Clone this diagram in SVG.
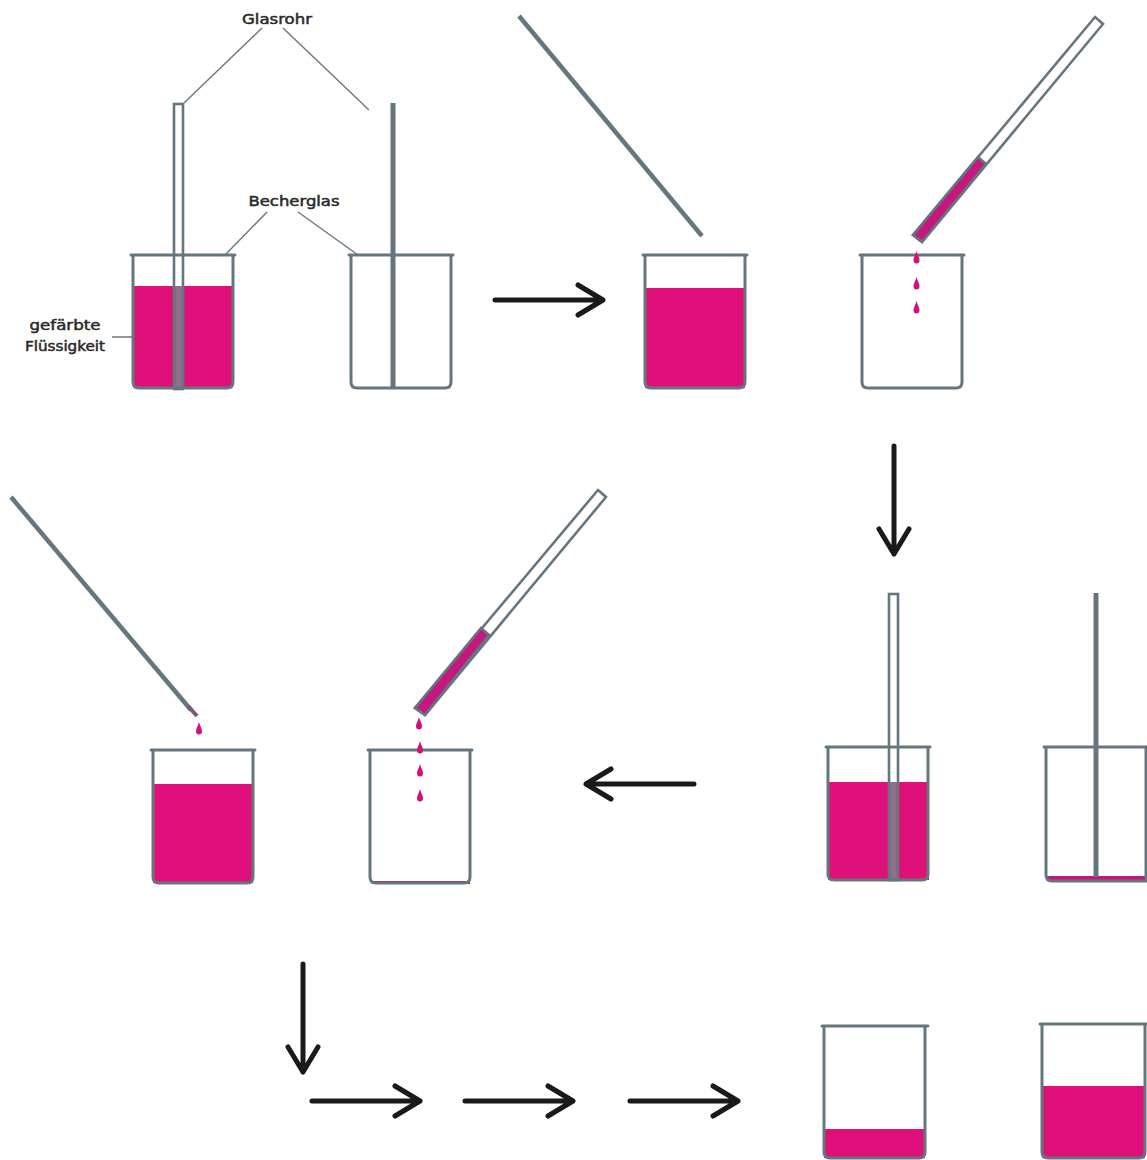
<svg xmlns="http://www.w3.org/2000/svg" width="1147" height="1160" viewBox="0 0 1147 1160">
<style>
.liq{fill:#e0107a}
.gl{fill:none;stroke:#66767f;stroke-width:3;stroke-linejoin:round;stroke-linecap:round}
.rod{fill:none;stroke:#66767f;stroke-width:5;stroke-linecap:butt}
.dia{fill:none;stroke:#66767f;stroke-width:4.5;stroke-linecap:butt}
.tube{fill:#fff;stroke:#66767f;stroke-width:2.6}
.tubeo{fill:none;stroke:#66767f;stroke-width:2.6}
.inner{fill:#8f7088}
.lead{fill:none;stroke:#6e7a80;stroke-width:1.5}
.arr{fill:none;stroke:#1a1a1a;stroke-width:5;stroke-linecap:round;stroke-linejoin:round}
.pink{fill:#c4187e;stroke:#66767f;stroke-width:2.6}
.t{font-family:"DejaVu Sans",sans-serif;font-size:13.500px;font-weight:normal;fill:#2a2a2a;stroke:#2a2a2a;stroke-width:.5;text-anchor:middle}
</style>
<defs>
<path id="beaker" class="gl" d="M-2 0H102M0 0V127Q0 133 6 133H94Q100 133 100 127V0"/>
<path id="drop" fill="#d4107a" d="M0 -7C1 -3 3 -1 3 2A3 3.500 0 0 1 -3 2C-3 -1 -1 -3 0 -7Z"/>
<path id="arrowR" class="arr" d="M0 0H108M83 -15L108 0L83 15"/>
</defs>

<rect width="1147" height="1160" fill="#fff"/>

<g id="labels">
<text class="t" x="277" y="24" textLength="70" lengthAdjust="spacingAndGlyphs">Glasrohr</text>
<text class="t" x="294" y="206" textLength="91" lengthAdjust="spacingAndGlyphs">Becherglas</text>
<text class="t" x="65" y="330" textLength="71" lengthAdjust="spacingAndGlyphs">gefärbte</text>
<text class="t" x="65" y="351" textLength="80" lengthAdjust="spacingAndGlyphs">Flüssigkeit</text>
<path class="lead" d="M262 28L184 103M283 28L369 110M267 212L225 255M298 212L358 255M112 337H149"/>
</g>

<g id="step1-left">
<rect class="liq" x="133" y="286" width="100" height="101"/>
<rect class="inner" x="175" y="286" width="7" height="103"/>
<use href="#beaker" x="133" y="255"/>
<rect class="tubeo" x="174" y="104" width="9" height="285"/>
</g>
<g id="step1-right">
<use href="#beaker" x="351" y="255"/>
<path class="rod" d="M393 103V388"/>
</g>

<g id="step2-left">
<rect class="liq" x="645" y="288" width="100" height="100"/>
<use href="#beaker" x="645" y="255"/>
<path class="dia" d="M519 16L702 236"/>
</g>
<g id="step2-right">
<use href="#beaker" x="862" y="255"/>
<path class="tube" d="M1095 17L1103 24L922 242L913 235Z"/>
<path class="pink" d="M978 157L986 164L922 242L913 235Z"/>
<use href="#drop" x="916.500" y="258"/>
<use href="#drop" x="916.500" y="284"/>
<use href="#drop" x="916.500" y="308"/>
</g>

<g id="step3-left">
<rect class="liq" x="828" y="782" width="101" height="98"/>
<rect class="inner" x="889" y="782" width="9" height="98"/>
<use href="#beaker" x="828" y="747"/>
<rect class="tubeo" x="889" y="594" width="9" height="286"/>
</g>
<g id="step3-right">
<rect x="1047" y="876" width="100" height="5" fill="#c5157c"/>
<path class="gl" d="M1044 747H1147M1046 747V875Q1046 881 1052 881H1147M1146 747V881"/>
<path class="rod" d="M1096 593V877"/>
</g>

<g id="step4-left">
<rect class="liq" x="153" y="784" width="100" height="99"/>
<use href="#beaker" x="153" y="750"/>
<path class="dia" d="M11 497L191 710"/>
<path d="M188 706L197 716" stroke="#7a5a78" stroke-width="4" fill="none"/>
<use href="#drop" x="199" y="729"/>
</g>
<g id="step4-right">
<rect x="372" y="881" width="98" height="3" fill="#c5157c"/>
<use href="#beaker" x="370" y="750"/>
<path class="tube" d="M598 490L606 497L425 715L415 708Z"/>
<path class="pink" d="M481 628L489 635L425 715L415 708Z"/>
<use href="#drop" x="419" y="724"/>
<use href="#drop" x="420" y="748"/>
<use href="#drop" x="420" y="771"/>
<use href="#drop" x="420" y="796"/>
</g>

<g id="step5-left">
<rect class="liq" x="824" y="1129" width="101" height="29"/>
<path class="gl" d="M822 1026H928M824 1026V1152Q824 1158 830 1158H919Q925 1158 925 1152V1026"/>
</g>
<g id="step5-right">
<rect class="liq" x="1042" y="1086" width="103" height="72"/>
<path class="gl" d="M1040 1024H1147M1042 1024V1152Q1042 1158 1048 1158H1139Q1145 1158 1145 1152V1024"/>
</g>

<g id="connectors">
<use href="#arrowR" x="495" y="300"/>
<use href="#arrowR" transform="translate(894 446) rotate(90)"/>
<use href="#arrowR" transform="translate(694 784) rotate(180)"/>
<use href="#arrowR" transform="translate(303 964) rotate(90)"/>
<use href="#arrowR" x="312" y="1101"/>
<use href="#arrowR" x="465" y="1101"/>
<use href="#arrowR" x="630" y="1101"/>
</g>
</svg>
